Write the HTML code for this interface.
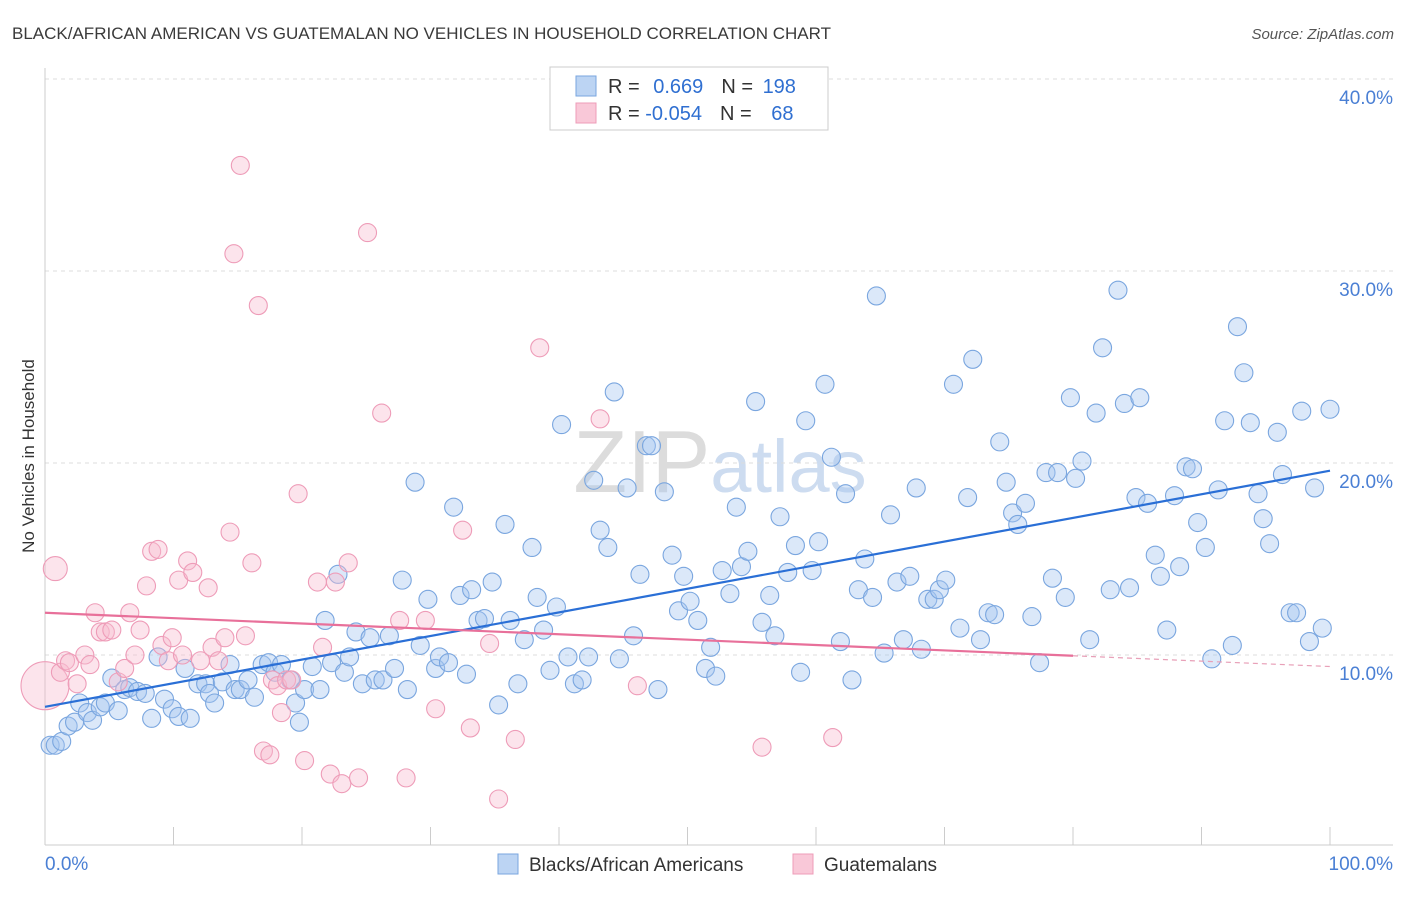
<!DOCTYPE html>
<html><head><meta charset="utf-8"><style>
body{margin:0;background:#fff;font-family:"Liberation Sans",sans-serif;}
svg text{font-family:"Liberation Sans",sans-serif;}
</style></head><body>
<svg id="chart" width="1406" height="892" xmlns="http://www.w3.org/2000/svg">
<text x="12" y="39" font-size="17" fill="#3a3a3a">BLACK/AFRICAN AMERICAN VS GUATEMALAN NO VEHICLES IN HOUSEHOLD CORRELATION CHART</text>
<text x="1394" y="39" font-size="15" fill="#555" text-anchor="end" font-style="italic">Source: ZipAtlas.com</text>
<text transform="translate(34,456) rotate(-90)" font-size="17" fill="#333" text-anchor="middle">No Vehicles in Household</text>
<text x="720" y="492" font-size="88" fill="#dcdcdc" text-anchor="middle" font-family="Liberation Serif">ZIP<tspan fill="#cddcf0" font-family="Liberation Sans" font-size="74">atlas</tspan></text>
<g id="grid"></g><g id="pts"></g><g id="lines"></g>
<g>
<rect x="550" y="67" width="278" height="63" fill="#fff" stroke="#ccc"/>
<rect x="576" y="76" width="20" height="20" fill="#bcd4f3" stroke="#7aa6df"/>
<rect x="576" y="103" width="20" height="20" fill="#f9c8d8" stroke="#ee9cb8"/>
<text x="608" y="93" font-size="20" fill="#333">R = <tspan fill="#2f6fd1" dx="8">0.669</tspan><tspan fill="#333" dx="18">N = </tspan><tspan fill="#2f6fd1" dx="4">198</tspan></text>
<text x="608" y="120" font-size="20" fill="#333">R = <tspan fill="#2f6fd1">-0.054</tspan><tspan fill="#333" dx="18">N = </tspan><tspan fill="#2f6fd1" dx="14">68</tspan></text>
</g>
<g>
<rect x="498" y="854" width="20" height="20" fill="#bcd4f3" stroke="#7aa6df"/>
<text x="529" y="871" font-size="19" fill="#333">Blacks/African Americans</text>
<rect x="793" y="854" width="20" height="20" fill="#f9c8d8" stroke="#ee9cb8"/>
<text x="824" y="871" font-size="19" fill="#333">Guatemalans</text>
</g>
</svg>
<script>
const yTicks=[10,20,30,40];
const xTickLabels=["0.0%","100.0%"];
const blueX=[0.4,0.8,1.3,1.8,2.3,2.7,3.3,3.7,4.3,4.7,5.2,5.7,6.2,6.6,7.2,7.8,8.3,8.8,9.3,9.9,10.4,10.9,11.3,11.9,12.5,12.8,13.2,13.8,14.4,14.8,15.2,15.8,16.3,16.9,17.4,17.9,18.4,19.1,19.5,19.8,20.2,20.8,21.4,21.8,22.3,22.8,23.3,23.7,24.2,24.7,25.3,25.7,26.3,26.8,27.2,27.8,28.2,28.8,29.2,29.8,30.4,30.7,31.4,31.8,32.3,32.8,33.2,33.7,34.2,34.8,35.3,35.8,36.2,36.8,37.3,37.9,38.3,38.8,39.3,39.8,40.2,40.7,41.2,41.8,42.3,42.7,43.2,43.8,44.3,44.7,45.3,45.8,46.3,46.8,47.2,47.7,48.2,48.8,49.3,49.7,50.2,50.8,51.4,51.8,52.2,52.7,53.3,53.8,54.2,54.7,55.3,55.8,56.4,56.8,57.2,57.8,58.4,58.8,59.2,59.7,60.2,60.7,61.2,61.9,62.3,62.8,63.3,63.8,64.4,64.7,65.3,65.8,66.3,66.8,67.3,67.8,68.2,68.7,69.2,69.6,70.1,70.7,71.2,71.8,72.2,72.8,73.4,73.9,74.3,74.8,75.3,75.7,76.3,76.8,77.4,77.9,78.4,78.8,79.4,79.8,80.2,80.7,81.3,81.8,82.3,82.9,83.5,84.0,84.4,84.9,85.2,85.8,86.4,86.8,87.3,87.9,88.3,88.8,89.3,89.7,90.3,90.8,91.3,91.8,92.4,92.8,93.3,93.8,94.4,94.8,95.3,95.9,96.3,96.9,97.4,97.8,98.4,98.8,99.4,100];
const blueY=[5.3,5.3,5.5,6.3,6.5,7.5,7.0,6.6,7.3,7.5,8.8,7.1,8.2,8.3,8.1,8.0,6.7,9.9,7.7,7.2,6.8,9.3,6.7,8.5,8.5,8.0,7.5,8.6,9.5,8.2,8.2,8.7,7.8,9.5,9.6,9.1,9.5,8.7,7.5,6.5,8.2,9.4,8.2,11.8,9.6,14.2,9.1,9.9,11.2,8.5,10.9,8.7,8.7,11.0,9.3,13.9,8.2,19.0,10.5,12.9,9.3,9.9,9.6,17.7,13.1,9.0,13.4,11.8,11.9,13.8,7.4,16.8,11.8,8.5,10.8,15.6,13.0,11.3,9.2,12.5,22.0,9.9,8.5,8.7,9.9,19.1,16.5,15.6,23.7,9.8,18.7,11.0,14.2,20.9,20.9,8.2,18.5,15.2,12.3,14.1,12.8,11.8,9.3,10.4,8.9,14.4,13.2,17.7,14.6,15.4,23.2,11.7,13.1,11.0,17.2,14.3,15.7,9.1,22.2,14.4,15.9,24.1,20.3,10.7,18.4,8.7,13.4,15.0,13.0,28.7,10.1,17.3,13.8,10.8,14.1,18.7,10.3,12.9,12.9,13.4,13.9,24.1,11.4,18.2,25.4,10.8,12.2,12.1,21.1,19.0,17.4,16.8,17.9,12.0,9.6,19.5,14.0,19.5,13.0,23.4,19.2,20.1,10.8,22.6,26.0,13.4,29.0,23.1,13.5,18.2,23.4,17.9,15.2,14.1,11.3,18.3,14.6,19.8,19.7,16.9,15.6,9.8,18.6,22.2,10.5,27.1,24.7,22.1,18.4,17.1,15.8,21.6,19.4,12.2,12.2,22.7,10.7,18.7,11.4,22.8];
const pinkX=[0.0,0.8,1.2,1.6,1.9,2.5,3.1,3.5,3.9,4.3,4.7,5.2,5.7,6.2,6.6,7.0,7.4,7.9,8.3,8.8,9.1,9.6,9.9,10.4,10.7,11.1,11.5,12.1,12.7,13.0,13.5,14.0,14.4,14.7,15.2,15.6,16.1,16.6,17.0,17.5,17.7,18.1,18.4,18.8,19.2,19.7,20.2,21.2,21.6,22.2,22.6,23.1,23.6,24.4,25.1,26.2,27.6,28.1,29.6,30.4,32.5,33.1,34.6,35.3,36.6,38.5,43.2,46.1,55.8,61.3];
const pinkY=[8.4,14.5,9.1,9.7,9.6,8.5,10.0,9.5,12.2,11.2,11.2,11.3,8.6,9.3,12.2,10.0,11.3,13.6,15.4,15.5,10.5,9.7,10.9,13.9,10.0,14.9,14.3,9.7,13.5,10.4,9.7,10.9,16.4,30.9,35.5,11.0,14.8,28.2,5.0,4.8,8.7,8.4,7.0,8.7,8.7,18.4,4.5,13.8,10.4,3.8,13.8,3.3,14.8,3.6,32.0,22.6,11.8,3.6,11.8,7.2,16.5,6.2,10.6,2.5,5.6,26.0,22.3,8.4,5.2,5.7];
const pinkR=[24,12];
const blueTrend=[7.3,19.6];
const pinkTrend=[12.2,9.4];
const pinkSolidEnd=80;

const NS="http://www.w3.org/2000/svg";
const X0=45,X1=1330,Y0=847,PX=19.2;
const sx=v=>X0+(X1-X0)*v/100, sy=v=>Y0-v*PX;
function mk(tag,attrs,parent){const e=document.createElementNS(NS,tag);for(const k in attrs)e.setAttribute(k,attrs[k]);parent.appendChild(e);return e;}
const grid=document.getElementById('grid');
yTicks.forEach(t=>{
 const l=mk('line',{x1:45,x2:1393,y1:sy(t),y2:sy(t),stroke:'#dcdcdc','stroke-dasharray':'4,4'},grid);
 
 
 const tx=mk('text',{x:1393,y:sy(t)+25,'font-size':19,fill:'#4a7fd4','text-anchor':'end'},grid);
 tx.textContent=t.toFixed(1)+'%';
 
 
});
const ax=mk('line',{x1:45,x2:1393,y1:845,y2:845,stroke:'#ccc'},grid);


const ay=mk('line',{x1:45,x2:45,y1:68,y2:845,stroke:'#ccc'},grid);


for(let i=0;i<=10;i++){const t=mk('line',{x1:sx(i*10),x2:sx(i*10),y1:827,y2:845,stroke:'#ccc'},grid);
 
 }
xTickLabels.forEach((s,i)=>{const t=mk('text',{x:i?1393:45,y:870,'font-size':19,fill:'#4a7fd4','text-anchor':i?'end':'start'},grid);t.textContent=s;
 
 });
const pts=document.getElementById('pts');
blueX.forEach((x,i)=>{const c=mk('circle',{cx:sx(x),cy:sy(blueY[i]),r:9,fill:'rgba(164,198,240,0.4)',stroke:'#7aa6df','stroke-width':1.1},pts);
 
 });
pinkX.forEach((x,i)=>{const c=mk('circle',{cx:sx(x),cy:sy(pinkY[i]),r:pinkR[i]||9,fill:'rgba(248,188,208,0.4)',stroke:'#ee9cb8','stroke-width':1.1},pts);
 
 });
const ln=document.getElementById('lines');
const b=mk('line',{x1:sx(0),y1:sy(blueTrend[0]),x2:sx(100),y2:sy(blueTrend[1]),stroke:'#2a6fd6','stroke-width':2.2},ln);


const pAt=x=>pinkTrend[0]+(pinkTrend[1]-pinkTrend[0])*x/100;
const p=mk('line',{x1:sx(0),y1:sy(pAt(0)),x2:sx(pinkSolidEnd),y2:sy(pAt(pinkSolidEnd)),stroke:'#e8709a','stroke-width':2.2},ln);


const pd=mk('line',{x1:sx(pinkSolidEnd),y1:sy(pAt(pinkSolidEnd)),x2:sx(100),y2:sy(pAt(100)),stroke:'#e8a0b8','stroke-width':1.2,'stroke-dasharray':'5,4'},ln);


</script>
</body></html>
